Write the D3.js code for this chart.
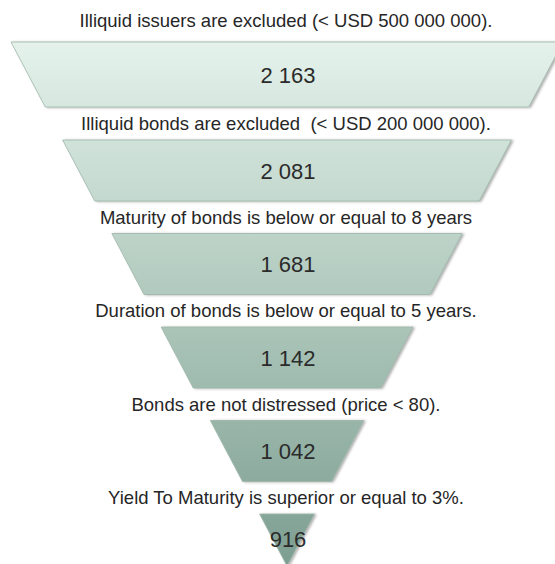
<!DOCTYPE html>
<html>
<head>
<meta charset="utf-8">
<script src="https://cdn.jsdelivr.net/npm/d3@7"></script>
<style>
  body { margin: 0; background: #fff; }
  svg { display: block; font-family: "Liberation Sans", Arial, Helvetica, sans-serif; }
</style>
</head>
<body>
<div class="container"></div>
<script>
const steps = [
  "Illiquid issuers are excluded (< USD 500 000 000).",
  "Illiquid bonds are excluded  (< USD 200 000 000).",
  "Maturity of bonds is below or equal to 8 years",
  "Duration of bonds is below or equal to 5 years.",
  "Bonds are not distressed (price < 80).",
  "Yield To Maturity is superior or equal to 3%."
]
const counts = [2163, 2081, 1681, 1142, 1042, 916]

const w = 555
const h = 564
const cx = 287
const funnelTop = 42
const apex = 566
const pitch = 93.5
const segH = 61

const fmt = d3.formatLocale({ decimal: ".", thousands: " ", grouping: [3], currency: ["", ""] }).format(",d")

const svg = d3.select(".container")
  .append("svg")
  .attr("width", w)
  .attr("height", h)

const defs = svg.append("defs")

const grad = defs.append("linearGradient")
  .attr("id", "funnelGrad")
  .attr("gradientUnits", "userSpaceOnUse")
  .attr("x1", 0).attr("x2", 0)
  .attr("y1", funnelTop).attr("y2", apex)
grad.append("stop").attr("offset", "0%").attr("stop-color", "#e4f2eb")
grad.append("stop").attr("offset", "50%").attr("stop-color", "#afc8bc")
grad.append("stop").attr("offset", "100%").attr("stop-color", "#7c9e90")

const shadow = defs.append("filter")
  .attr("id", "shadow")
  .attr("x", "-10%").attr("y", "-10%")
  .attr("width", "120%").attr("height", "130%")
shadow.append("feDropShadow")
  .attr("dx", 2).attr("dy", 0.5)
  .attr("stdDeviation", 1.2)
  .attr("flood-color", "#555")
  .attr("flood-opacity", 0.45)

// first band is a bit taller, the rest follow a regular pitch
const y = d3.scaleLinear().domain([1, 2]).range([140, 140 + pitch])
const half = d3.scaleLinear().domain([funnelTop, apex]).range([276, 0]).clamp(true)

const rows = steps.map((s, i) => {
  const t = i === 0 ? funnelTop : y(i)
  const b = Math.min(i === 0 ? 107 : t + segH, apex)
  return { label: s, value: counts[i], t: t, b: b, i: i }
})

const row = svg.selectAll("g.row")
  .data(rows)
  .enter()
  .append("g")
  .attr("class", "row")

row.append("path")
  .attr("d", d => {
    const pts = [
      [cx - half(d.t), d.t],
      [cx + half(d.t), d.t],
      [cx + half(d.b), d.b],
      [cx - half(d.b), d.b]
    ]
    return d3.line()(pts) + "Z"
  })
  .attr("fill", "url(#funnelGrad)")
  .attr("stroke", "#9db6aa")
  .attr("stroke-width", 0.8)
  .attr("filter", "url(#shadow)")

row.append("text")
  .attr("x", cx - 1)
  .attr("y", d => d.i === 0 ? 27 : d.t - 10)
  .attr("text-anchor", "middle")
  .attr("font-size", "18.5px")
  .attr("fill", "#262626")
  .style("white-space", "pre")
  .text(d => d.label)

row.append("text")
  .attr("x", cx + 1)
  .attr("y", d => (d.t + Math.min(d.b, h)) / 2 + 8)
  .attr("text-anchor", "middle")
  .attr("font-size", "22px")
  .attr("fill", "#2b2b2b")
  .text(d => fmt(d.value))
</script>
</body>
</html>
